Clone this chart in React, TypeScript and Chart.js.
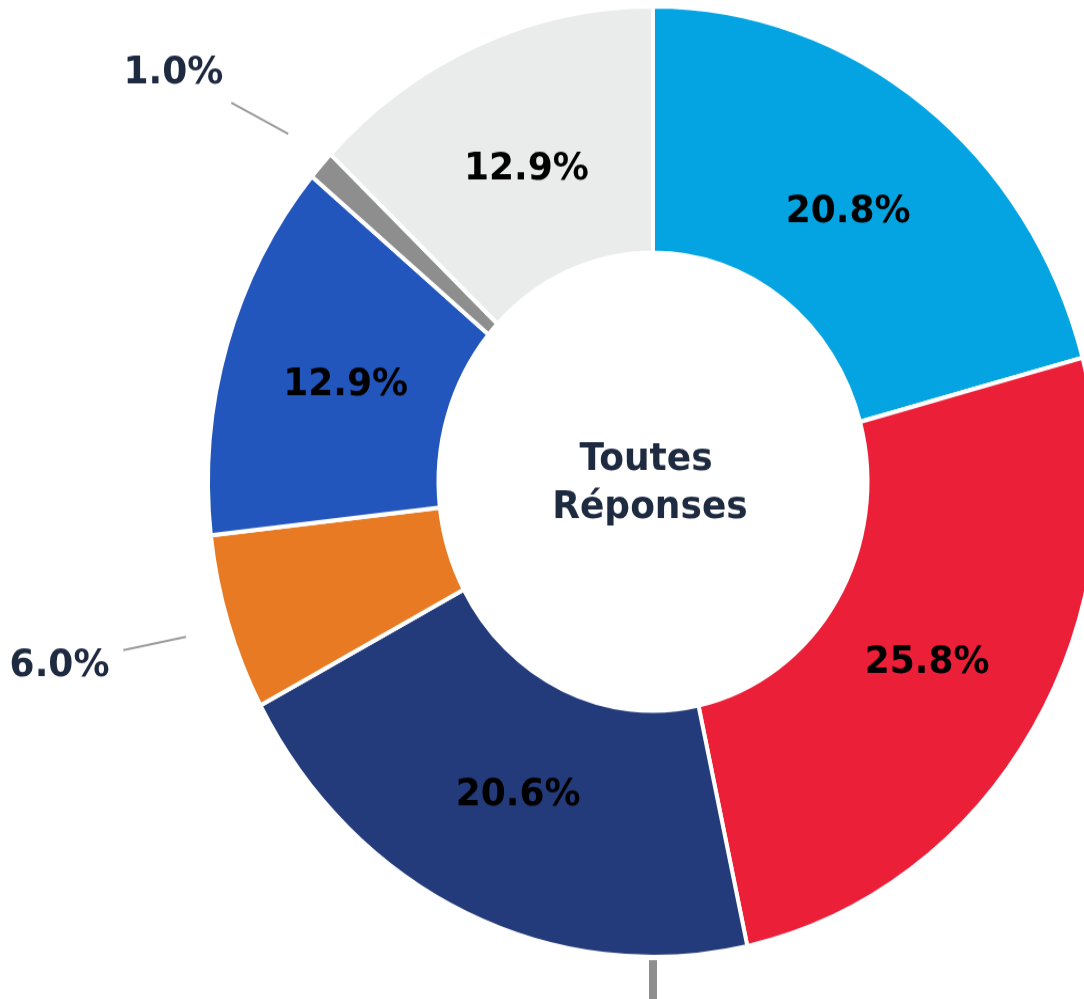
import React, { useEffect, useRef } from "react";
import { Chart, registerables } from "chart.js";

Chart.register(...registerables);

const categories = ["A", "B", "C", "D", "E", "F", "G"];
const values = [20.8, 25.8, 20.6, 6.0, 12.9, 1.0, 12.9];
const valueLabels = ["20.8%", "25.8%", "20.6%", "6.0%", "12.9%", "1.0%", "12.9%"];
const colors = ["#03A4E1", "#EC1F38", "#233B7A", "#E77A22", "#2356BC", "#8E8E8E", "#EAECEB"];
const outsideThreshold = 7;
const centerLines = ["Toutes", "Réponses"];

const FONT = "bold 36px 'DejaVu Sans'";
const TEXT_DARK = "#1E2A40";
const TEXT_DY = 2.5;

const labelPlugin = {
  id: "sliceLabels",
  afterDatasetsDraw(chart: any) {
    const ctx = chart.ctx;
    const meta = chart.getDatasetMeta(0);
    const arcs = meta.data;
    if (!arcs.length) return;
    const cx = arcs[0].x;
    const cy = arcs[0].y;
    ctx.save();
    ctx.font = FONT;
    ctx.textAlign = "center";
    ctx.textBaseline = "middle";
    arcs.forEach((arc: any, i: number) => {
      const mid = (arc.startAngle + arc.endAngle) / 2;
      const cos = Math.cos(mid);
      const sin = Math.sin(mid);
      const outer = arc.outerRadius;
      if (values[i] < outsideThreshold) {
        const sx = cx + cos * (outer + 44);
        const sy = cy + sin * (outer + 44);
        let a = Math.atan2(sin, cos);
        if (a < 0) a += Math.PI * 2;
        const la = Math.PI + (a - Math.PI) * 0.65;
        const ex = sx + Math.cos(la) * 64;
        const ey = sy + Math.sin(la) * 64;
        ctx.strokeStyle = "#9A9A9A";
        ctx.lineWidth = 2;
        ctx.beginPath();
        ctx.moveTo(sx, sy);
        ctx.lineTo(ex, ey);
        ctx.stroke();
        ctx.fillStyle = TEXT_DARK;
        ctx.fillText(valueLabels[i], ex + Math.cos(la) * 65, ey + Math.sin(la) * 65 + TEXT_DY);
      } else {
        const r = 321;
        ctx.fillStyle = "#000000";
        ctx.fillText(valueLabels[i], cx + cos * r, cy + sin * r + TEXT_DY);
      }
    });
    // bottom leader mark
    ctx.strokeStyle = "#8E8E8E";
    ctx.lineWidth = 8;
    ctx.beginPath();
    ctx.moveTo(cx, cy + arcs[0].outerRadius + 3);
    ctx.lineTo(cx, cy + arcs[0].outerRadius + 120);
    ctx.stroke();
    // center text
    ctx.fillStyle = TEXT_DARK;
    ctx.fillText(centerLines[0], cx - 7, cy - 22.5 + TEXT_DY);
    ctx.fillText(centerLines[1], cx - 3, cy + 22.5 + TEXT_DY);
    ctx.restore();
  },
};

export default function App() {
  const ref = useRef<HTMLCanvasElement>(null);
  useEffect(() => {
    if (!ref.current) return;
    const chart = new Chart(ref.current, {
      type: "doughnut",
      data: {
        labels: categories,
        datasets: [
          {
            data: values,
            backgroundColor: colors,
            borderColor: "#FFFFFF",
            borderWidth: 4,
          },
        ],
      },
      options: {
        responsive: false,
        animation: false,
        radius: 445,
        cutout: "48.2%",
        layout: { padding: { top: 0, bottom: 58, left: 0, right: 0 } },
        plugins: {
          legend: { display: false },
          tooltip: { enabled: false },
        },
      } as any,
      plugins: [labelPlugin],
    });
    return () => chart.destroy();
  }, []);
  return (
    <div
      style={{
        position: "absolute",
        left: 0,
        top: 0,
        width: 1084,
        height: 999,
        overflow: "hidden",
        background: "#FFFFFF",
      }}
    >
      <div style={{ transform: "scale(1, 1.068)", transformOrigin: "0 0", width: 1306, height: 960 }}>
        <canvas ref={ref} width={1306} height={960} style={{ display: "block" }} />
      </div>
    </div>
  );
}
